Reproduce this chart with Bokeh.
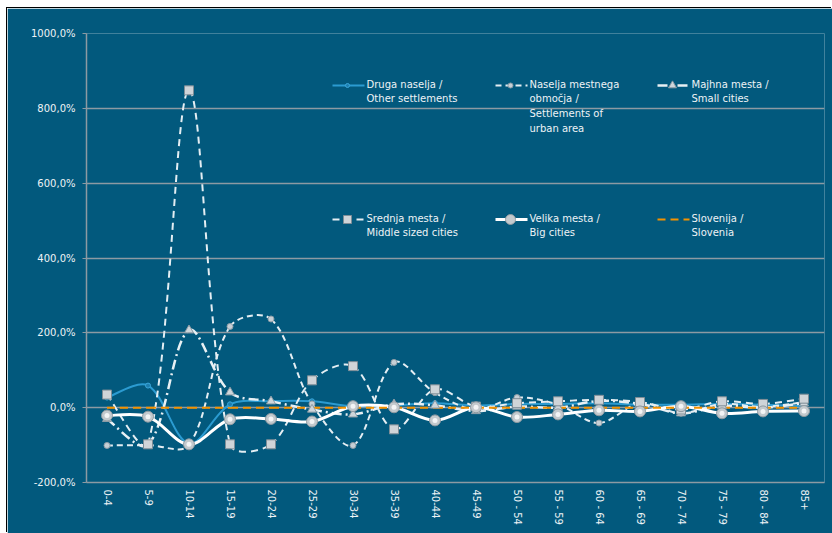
import math

from bokeh.embed import file_html
from bokeh.models import FixedTicker, Label, Range1d
from bokeh.plotting import figure
from bokeh.resources import INLINE

# Age groups on the category axis
age_groups = ["0-4", "5-9", "10-14", "15-19", "20-24", "25-29", "30-34", "35-39",
              "40-44", "45-49", "50 - 54", "55 - 59", "60 - 64", "65 - 69",
              "70 - 74", "75 - 79", "80 - 84", "85+"]

# Index of change (%) per settlement type
druga = [27, 59, -96, 9, 17, 17, 4, 6, 12, 6, 10, 10, 12, 8, 8, 10, 8, 4]
naselja = [-101, -100, -100, 217, 237, 10, -101, 121, 40, -5, 27, 8, -41, 12, -15, 10, 2, 15]
majhna = [-30, -100, 207, 41, 17, -5, -18, 9, 6, -9, 3, 0, 18, 10, -15, 5, 0, 12]
srednja = [35, -98, 848, -98, -98, 73, 111, -58, 49, 3, 12, 17, 21, 15, -5, 17, 10, 24]
velika = [-21, -24, -98, -31, -30, -37, 4, 1, -34, 1, -25, -18, -7, -10, 4, -15, -10, -9]
slovenija = [0, 0, 0, 0, 0, 0, 0, 0, 0, 0, 0, 0, 0, 0, 0, 0, 0, 0]

y_ticks = [-200, 0, 200, 400, 600, 800, 1000]

BG = "#02597d"
GRID = "#8d9aa3"
TEXT = "#eef3f6"
FONT = "DejaVu Sans"

FRAME_W, FRAME_H = 738, 449
X_MIN, X_MAX = -0.5, len(age_groups) - 0.5
Y_MIN, Y_MAX = -200, 1000
PX_X = FRAME_W / (X_MAX - X_MIN)
PX_Y = FRAME_H / (Y_MAX - Y_MIN)

p = figure(width=825, height=525,
           x_range=Range1d(X_MIN, X_MAX), y_range=Range1d(Y_MIN, Y_MAX),
           output_backend="svg", toolbar_location=None,
           min_border_left=79, min_border_right=8,
           min_border_top=25, min_border_bottom=51,
           background_fill_color=BG, border_fill_color=BG,
           outline_line_color=None, margin=(8, 0, 0, 7))
# thin dark edge along the left and top of the chart area
p.styles = {"box-shadow": "-1px -1px 0 0 #000"}

# Axes
p.xaxis.ticker = FixedTicker(ticks=list(range(len(age_groups))))
p.xaxis.major_label_overrides = {i: lab for i, lab in enumerate(age_groups)}
p.xaxis.major_label_orientation = -math.pi / 2
p.xaxis.major_tick_out = 0
p.xaxis.major_tick_in = 0
p.xaxis.major_label_standoff = 7

p.yaxis.ticker = FixedTicker(ticks=y_ticks)
p.yaxis.major_label_overrides = {t: f"{t},0%" for t in y_ticks}
p.yaxis.major_tick_out = 4
p.yaxis.major_tick_in = 0
p.yaxis.major_tick_line_color = GRID
p.yaxis.major_label_standoff = 7

for ax in (p.xaxis, p.yaxis):
    ax.minor_tick_out = 0
    ax.minor_tick_in = 0
    ax.axis_line_color = GRID
    ax.axis_line_width = 1.5
    ax.major_label_text_color = TEXT
    ax.major_label_text_font = FONT
    ax.major_label_text_font_size = "10px"

p.xgrid.visible = False
p.ygrid.grid_line_color = GRID
p.ygrid.grid_line_width = 1.5


def smooth_segments(vals, tension=1 / 3):
    """Cubic Bezier pieces through the points, handles scaled by segment length."""
    pts = [(i * PX_X, v * PX_Y) for i, v in enumerate(vals)]
    n = len(pts)

    def dist(a, b):
        return math.hypot(b[0] - a[0], b[1] - a[1]) or 1e-9

    tangents = []
    for i in range(n):
        a, b = pts[max(i - 1, 0)], pts[min(i + 1, n - 1)]
        tangents.append((b[0] - a[0], b[1] - a[1]))

    seg = {k: [] for k in ("x0", "y0", "x1", "y1", "cx0", "cy0", "cx1", "cy1")}
    for i in range(n - 1):
        p0, p1 = pts[i], pts[i + 1]
        d = dist(p0, p1)
        d_prev = dist(pts[i - 1], p0) if i > 0 else d
        d_next = dist(p1, pts[i + 2]) if i + 2 < n else d
        k0 = tension * d / (d_prev + d)
        k1 = tension * d / (d + d_next)
        c0 = (p0[0] + tangents[i][0] * k0, p0[1] + tangents[i][1] * k0)
        c1 = (p1[0] - tangents[i + 1][0] * k1, p1[1] - tangents[i + 1][1] * k1)
        seg["x0"].append(p0[0] / PX_X)
        seg["y0"].append(p0[1] / PX_Y)
        seg["x1"].append(p1[0] / PX_X)
        seg["y1"].append(p1[1] / PX_Y)
        seg["cx0"].append(c0[0] / PX_X)
        seg["cy0"].append(c0[1] / PX_Y)
        seg["cx1"].append(c1[0] / PX_X)
        seg["cy1"].append(c1[1] / PX_Y)
    return seg


series = [
    dict(name="Druga naselja /\nOther settlements", vals=druga,
         color="#2b9bd1", width=2, dash="solid",
         marker="circle", msize=5, mfill="#1d7fb0", mline="#3aa7da"),
    dict(name="Naselja mestnega\nobmočja /\nSettlements of\nurban area", vals=naselja,
         color="#e4eef3", width=2, dash="6 4",
         marker="circle", msize=6, mfill="#c6cfd5", mline="#8c9ca6"),
    dict(name="Majhna mesta /\nSmall cities", vals=majhna,
         color="#e8f0f4", width=2.5, dash="10 4 2 4",
         marker="triangle", msize=9, mfill="#cfd6db", mline="#8c9ca6"),
    dict(name="Srednja mesta /\nMiddle sized cities", vals=srednja,
         color="#e4eef3", width=2, dash="7 5",
         marker="square", msize=9, mfill="#cfd4d8", mline="#7f8d96"),
    dict(name="Velika mesta /\nBig cities", vals=velika,
         color="#ffffff", width=3, dash="solid",
         marker="circle", msize=11, mfill="#c3c9cd", mline="#8f9aa1"),
    dict(name="Slovenija /\nSlovenia", vals=slovenija,
         color="#f39200", width=2, dash="8 5",
         marker=None),
]

xs = list(range(len(age_groups)))
for s in series:
    seg = smooth_segments(s["vals"])
    p.bezier(line_color=s["color"], line_width=s["width"], line_dash=s["dash"], **seg)
for s in series:
    if s["marker"]:
        p.scatter(xs, s["vals"], marker=s["marker"], size=s["msize"],
                  fill_color=s["mfill"], line_color=s["mline"], line_width=1)
        if s["marker"] == "circle" and s["msize"] >= 10:
            p.scatter(xs, s["vals"], marker="circle", size=5,
                      fill_color="#ffffff", fill_alpha=0.8, line_color=None)


def frame_xy(fx, fy):
    """Frame pixel offsets (from the top-left of the plot area) to data units."""
    return X_MIN + fx / PX_X, Y_MAX - fy / PX_Y


# Legend: two rows of three entries inside the plot area
col_x = [246, 409, 571]
row_y = [52, 186]
for idx, s in enumerate(series):
    cx, ry = col_x[idx % 3], row_y[idx // 3]
    xa, ya = frame_xy(cx, ry)
    xb, _ = frame_xy(cx + 32, ry)
    xm, _ = frame_xy(cx + 15, ry)
    p.line([xa, xb], [ya, ya], line_color=s["color"], line_width=s["width"],
           line_dash=s["dash"])
    if s["marker"]:
        p.scatter([xm], [ya], marker=s["marker"], size=s["msize"] - 1,
                  fill_color=s["mfill"], line_color=s["mline"], line_width=1)
    tx, ty = frame_xy(cx + 34, ry - 7)
    p.add_layout(Label(x=tx, y=ty, text=s["name"], text_color=TEXT,
                       text_font=FONT, text_font_size="10px",
                       text_baseline="top", text_align="left",
                       text_line_height=1.35))

open("out.html", "w").write(file_html(p, INLINE))
